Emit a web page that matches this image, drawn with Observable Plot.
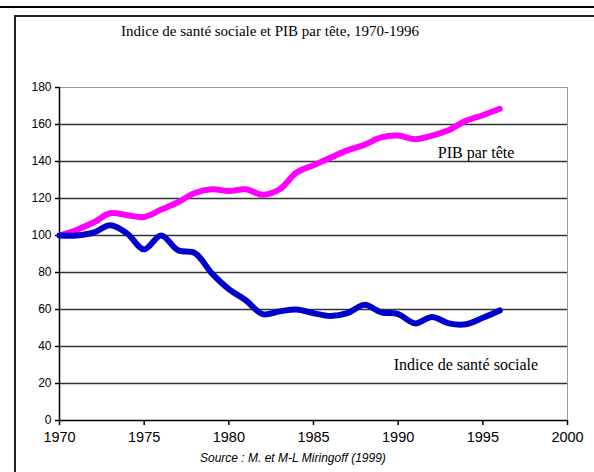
<!DOCTYPE html>
<html>
<head>
<meta charset="utf-8">
<script src="https://cdn.jsdelivr.net/npm/d3@7"></script>
<script src="https://cdn.jsdelivr.net/npm/@observablehq/plot@0.6"></script>
<style>
  html, body { margin: 0; padding: 0; background: #fff; }
  #wrap { position: relative; width: 594px; height: 472px; overflow: hidden; background: #fff; }
  #topline { position: absolute; left: 0; top: 6px; width: 594px; height: 2px; background: #000; }
  #box { position: absolute; left: 14px; top: 15px; width: 600px; height: 480px; border-left: 2px solid #222; border-top: 2px solid #222; box-sizing: border-box; }
  #title { position: absolute; left: 0; width: 540px; top: 23px; text-align: center; font-family: "Liberation Serif", "Times New Roman", serif; font-size: 15px; color: #000; }
  #source { position: absolute; top: 451px; left: 200px; font-family: "Liberation Sans", Arial, sans-serif; font-style: italic; font-size: 12px; color: #000; }
  #chart { position: absolute; left: 0; top: 0; }
</style>
</head>
<body>
<div id="wrap">
  <div id="topline"></div>
  <div id="box"></div>
  <div id="title">Indice de santé sociale et PIB par tête, 1970-1996</div>
  <div id="chart"></div>
  <div id="source">Source : M. et M-L Miringoff (1999)</div>
</div>
<script>
const years = [1970,1971,1972,1973,1974,1975,1976,1977,1978,1979,1980,1981,1982,1983,1984,1985,1986,1987,1988,1989,1990,1991,1992,1993,1994,1995,1996];
const pib = [100,103,107,112,111,110,114,118,123,125,124,125,122,125,134,138,142,146,149,153,154,152,154,157,162,165,168.5];
const ism = [100,100,101.5,105.5,101,92.5,100,92,90.5,79.5,71,65,57.5,59,60,58,56.5,58,62.5,58.5,57.5,52.5,56,52.5,52,55.5,59.5];
const yTicks = [0,20,40,60,80,100,120,140,160,180];
const xTicks = [1970,1975,1980,1985,1990,1995,2000];
const seriesLabels = [
  {name: "PIB par tête", year: 1994.6, value: 144.5},
  {name: "Indice de santé sociale", year: 1994.0, value: 30}
];

const pibData = years.map((y, i) => ({year: y, value: pib[i]}));
const ismData = years.map((y, i) => ({year: y, value: ism[i]}));

const chart = Plot.plot({
  width: 594,
  height: 472,
  marginTop: 87,
  marginLeft: 59,
  marginRight: 27,
  marginBottom: 52,
  style: {fontFamily: "'Liberation Sans', Arial, sans-serif", background: "transparent", color: "#000"},
  x: {domain: [1970, 2000]},
  y: {domain: [0, 180]},
  marks: [
    Plot.ruleY(yTicks.filter(d => d > 0 && d < 180), {stroke: "#333", strokeWidth: 1.5, strokeOpacity: 1}),
    Plot.ruleY([180], {stroke: "#999", strokeWidth: 1}),
    Plot.ruleX([2000], {stroke: "#999", strokeWidth: 1}),
    Plot.axisY({ticks: yTicks, tickSize: 4, tickPadding: 4, fontSize: 12, label: null, stroke: "#000", strokeWidth: 1.5}),
    Plot.axisX({ticks: xTicks, tickFormat: "d", tickSize: 5, tickPadding: 6, fontSize: 14.5, label: null, stroke: "#000", strokeWidth: 1.5}),
    Plot.ruleX([1970], {stroke: "#000", strokeWidth: 1.5}),
    Plot.ruleY([0], {stroke: "#000", strokeWidth: 1.5}),
    Plot.line(pibData, {x: "year", y: "value", stroke: "#ff00ff", strokeWidth: 6, curve: "catmull-rom"}),
    Plot.line(ismData, {x: "year", y: "value", stroke: "#0000cc", strokeWidth: 6, curve: "catmull-rom"}),
    Plot.text(seriesLabels, {x: "year", y: "value", text: "name", fontSize: 16, fontFamily: "'Liberation Serif', 'Times New Roman', serif", fill: "#000"})
  ]
});
document.getElementById("chart").appendChild(chart);
</script>
</body>
</html>
